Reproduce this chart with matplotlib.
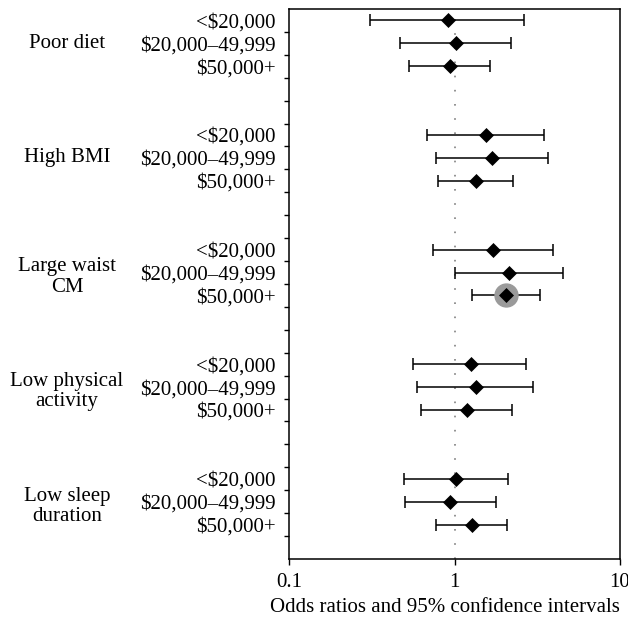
import matplotlib.pyplot as plt
import numpy as np

plt.rcParams['font.family'] = ['Liberation Serif', 'DejaVu Serif']

# 각 항목과 소득 구간
groups = ["Poor diet", "High BMI", "Large waist\nCM", "Low physical\nactivity", "Low sleep\nduration"]
incomes = ["<$20,000", "$20,000\u201349,999", "$50,000+"]

# 오즈비와 95% 신뢰구간
odds = [0.91, 1.02, 0.94,
        1.54, 1.68, 1.34,
        1.71, 2.12, 2.05,
        1.25, 1.34, 1.19,
        1.02, 0.94, 1.27]
lower = [0.31, 0.47, 0.53,
         0.68, 0.77, 0.79,
         0.74, 1.00, 1.28,
         0.56, 0.59, 0.625,
         0.495, 0.505, 0.77]
upper = [2.63, 2.19, 1.64,
         3.49, 3.67, 2.25,
         3.94, 4.51, 3.29,
         2.72, 2.98, 2.24,
         2.11, 1.77, 2.08]
highlight = 8  # Large waist, $50,000+

# 행 위치: 그룹마다 3행 + 빈 2행
rows = [g * 5 + i for g in range(len(groups)) for i in range(len(incomes))]
labels = incomes * len(groups)

fig = plt.figure(figsize=(6.28, 6.24), dpi=100)
ax = fig.add_axes([0.4602, 0.1042, 0.5271, 0.8814])

ax.axvline(1, color='#808080', lw=1.2, ls=(0, (1, 7.5)), zorder=1)

odds_a = np.array(odds)
err = [odds_a - np.array(lower), np.array(upper) - odds_a]
ax.errorbar(odds, rows, xerr=err, fmt='none', ecolor='black', elinewidth=1.1,
            capsize=4, capthick=1.1, zorder=2)
ax.plot(odds[highlight], rows[highlight], 'o', ms=16.5, color='#9a9a9a', zorder=3)
ax.plot(odds, rows, 'D', ms=7, color='black', mew=0.5, zorder=4)

ax.set_xscale('log')
ax.set_xlim(0.1, 10)
ax.set_ylim(23.5, -0.5)
ax.set_xticks([0.1, 1, 10])
ax.set_xticklabels(["0.1", "1", "10"], fontsize=15)
ax.xaxis.set_minor_locator(plt.NullLocator())
ax.tick_params(axis='x', length=4, width=1, pad=6)

ax.set_yticks(np.arange(0.5, 23, 1))
ax.set_yticklabels([])
ax.set_yticks(rows, minor=True)
ax.set_yticklabels(labels, minor=True, fontsize=15)
ax.tick_params(axis='y', which='major', length=3.5, width=1)
ax.tick_params(axis='y', which='minor', length=0, pad=9.5)

for s in ax.spines.values():
    s.set_linewidth(1.1)

for g, name in enumerate(groups):
    y = g * 5 + 1
    if "\n" in name:
        y += 0.2
    ax.text(-0.671, y, name, transform=ax.get_yaxis_transform(), ha='center', va='center',
            fontsize=15, linespacing=1.1)

fig.text(445 / 628, 1 - 607 / 624, "Odds ratios and 95% confidence intervals",
         ha='center', va='center', fontsize=15)

fig.savefig("out.png", dpi=100)
